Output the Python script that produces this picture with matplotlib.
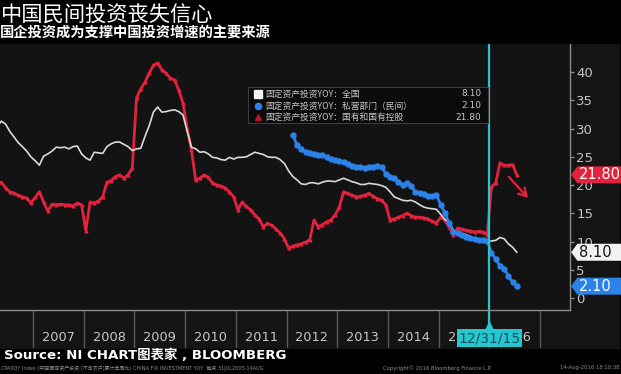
import numpy as np
import matplotlib
matplotlib.use("Agg")
import matplotlib.pyplot as plt
import matplotlib.transforms as mtransforms
from matplotlib.patches import Rectangle, Polygon

plt.rcParams['font.family'] = ['DejaVu Sans', 'Noto Sans CJK SC']

# ---------------- data (monthly) ----------------
white_start = (2006, 4)
white_vals = [
    30.3, 31.3, 30.8, 29.5, 28.5, 27.5, 26.8, 26.0, 25.0,                 # 2006 Apr-Dec
    24.3, 23.5, 25.1, 25.5, 26.0, 26.7, 26.6, 26.7, 26.4, 26.8, 26.9, 25.5,  # 2007
    24.8, 24.4, 25.8, 25.7, 25.6, 26.8, 27.3, 27.6, 27.6, 27.2, 26.8, 26.1,  # 2008
    26.4, 26.5, 28.6, 30.5, 32.9, 33.8, 32.9, 33.0, 33.2, 33.3, 33.0, 32.4,  # 2009
    29.5, 26.7, 26.4, 25.8, 25.9, 25.5, 24.9, 24.8, 24.5, 24.4, 24.9, 24.6,  # 2010
    24.9, 24.9, 25.0, 25.4, 25.8, 25.6, 25.4, 25.0, 24.9, 24.9, 24.5, 23.8,  # 2011
    22.5, 21.5, 20.9, 20.2, 20.1, 20.4, 20.4, 20.2, 20.5, 20.7, 20.7, 20.6,  # 2012
    20.9, 21.2, 20.9, 20.6, 20.4, 20.1, 20.1, 20.3, 20.2, 20.1, 19.9, 19.6,  # 2013
    18.8, 17.9, 17.6, 17.3, 17.2, 17.3, 17.0, 16.5, 16.1, 15.9, 15.8, 15.7,  # 2014
    14.8, 13.9, 13.5, 12.0, 11.4, 11.4, 11.2, 10.9, 10.3, 10.2, 10.2, 10.0,  # 2015
    10.1, 10.2, 10.7, 10.5, 9.6, 9.0, 8.1,                                   # 2016 Jan-Jul
]

red_start = (2006, 4)
red_vals = [
    20.3, 20.5, 19.5, 18.8, 18.6, 18.2, 17.9, 17.7, 16.8,                 # 2006 Apr-Dec
    17.8, 18.8, 17.0, 15.4, 16.6, 16.5, 16.6, 16.5, 16.5, 16.3, 16.8, 16.5,  # 2007
    11.9, 17.0, 16.8, 17.2, 17.9, 20.5, 20.8, 21.5, 21.8, 21.2, 21.8, 23.0,  # 2008
    35.4, 37.0, 38.2, 39.8, 41.2, 41.6, 40.4, 39.8, 38.9, 38.6, 36.8, 34.5,  # 2009
    30.0, 26.2, 20.9, 21.2, 21.8, 21.4, 20.3, 20.0, 19.8, 19.5, 18.8, 17.9,  # 2010
    15.6, 17.0, 16.2, 15.6, 14.7, 14.0, 12.6, 13.2, 12.9, 12.2, 11.5, 10.5,  # 2011
    8.8, 9.2, 9.4, 9.6, 9.9, 10.3, 13.8, 12.6, 13.0, 13.5, 13.8, 14.7,       # 2012
    16.1, 18.8, 18.5, 18.2, 17.9, 18.0, 18.2, 18.5, 18.0, 17.6, 17.3, 16.5,  # 2013
    13.8, 14.0, 14.3, 14.6, 15.0, 14.6, 14.3, 14.3, 14.2, 14.0, 13.6, 13.3,  # 2014
    14.3, 13.8, 12.5, 11.2, 12.4, 12.2, 12.0, 11.9, 11.7, 11.8, 11.7, 11.2,  # 2015
    19.7, 20.3, 23.9, 23.5, 23.5, 23.6, 21.8,                                # 2016 Jan-Jul
]

blue_start = (2012, 2)
blue_vals = [
    28.8, 27.1, 26.3, 25.8, 25.6, 25.5, 25.4, 25.3, 25.0, 24.6, 24.5,        # 2012 Feb-Dec
    24.3, 24.1, 23.8, 23.4, 23.2, 23.2, 23.1, 23.2, 23.2, 23.3, 23.2, 22.0,  # 2013
    21.5, 21.2, 20.6, 20.0, 20.3, 19.8, 18.8, 18.6, 18.4, 18.1, 18.1, 18.2,  # 2014
    16.5, 15.0, 13.3, 11.7, 11.5, 11.2, 10.8, 10.7, 10.5, 10.3, 10.2, 10.1,  # 2015
    8.0, 6.9, 5.7, 5.2, 3.9, 2.8, 2.1,                                       # 2016 Jan-Jul
]

year_labels = [2007, 2008, 2009, 2010, 2011, 2012, 2013, 2014, 2015, 2016]
y_ticks = [0, 5, 10, 15, 20, 25, 30, 35, 40]
legend_labels = ['固定资产投资YOY：全国', '固定资产投资YOY：私营部门（民间）', '固定资产投资YOY：国有和国有控股']
last_values = [8.10, 2.10, 21.80]
cursor_date = 2016.0
cursor_label = '12/31/15'
arrow_from = (2016.35, 21.8)
arrow_to = (2016.80, 17.35)

title = '中国民间投资丧失信心'
subtitle = '国企投资成为支撑中国投资增速的主要来源'
source = 'Source: NI CHART图表家 , BLOOMBERG'


def month_axis(start, n):
    y, m = start
    return y + (m - 0.5 + np.arange(n)) / 12.0


xw = month_axis(white_start, len(white_vals))
xr = month_axis(red_start, len(red_vals))
xb = month_axis(blue_start, len(blue_vals))

# ---------------- figure ----------------
W, H = 621, 374
fig = plt.figure(figsize=(W / 100, H / 100), dpi=100, facecolor='black')


def fx(px):
    return px / W


def fy(py):
    return 1 - py / H


fig.patches.append(Rectangle((0, fy(348)), fx(619), fy(44) - fy(348),
                             transform=fig.transFigure, color='#141414', zorder=-5))

C_WHITE = '#dadada'
C_RED = '#e3223d'
C_BLUE = '#2b82e8'
C_CYAN = '#27c6cf'

ax = fig.add_axes([0, fy(310), fx(570), fy(44) - fy(310)], zorder=2)
ax.set_facecolor('#131313')
x0 = 2007 - 33 / 50.7
x1 = 2007 + (570 - 33) / 50.7
ax.set_xlim(x0, x1)
ax.set_ylim(-2.12, 44.96)

ax.plot(xr, red_vals, color=C_RED, lw=2.0, marker='^', ms=2.0, zorder=3)
ax.plot(xw, white_vals, color=C_WHITE, lw=1.2, zorder=4)
ax.plot(xb, blue_vals, color=C_BLUE, lw=2.0, marker='o', ms=3.6, zorder=5)
ax.axvline(cursor_date, color=C_CYAN, lw=1.6, zorder=6)

ax.annotate('', xy=arrow_to, xytext=arrow_from,
            arrowprops=dict(arrowstyle='->,head_length=0.55,head_width=0.32',
                            color=C_RED, lw=1.6), zorder=7)

ax.yaxis.tick_right()
ax.set_yticks(y_ticks)
ax.set_xticks([])
ax.tick_params(axis='y', colors='#8c8c8c', labelcolor='#c4c4c4', labelsize=9.5,
               length=3, width=1, pad=1.5, direction='out')
for s in ['top', 'left']:
    ax.spines[s].set_visible(False)
for s in ['right', 'bottom']:
    ax.spines[s].set_color('#8a8a8a')
    ax.spines[s].set_linewidth(1.0)

# value tags on the right axis
trans = mtransforms.blended_transform_factory(ax.transAxes, ax.transData)
tag_styles = [('#f2f2f2', '#111111'), (C_BLUE, 'white'), (C_RED, 'white')]
half = 8.5 / 5.65
xe = 621 / 570
for v, (fc, tc) in zip(last_values, tag_styles):
    poly = Polygon([(1.002, v), (1.013, v + half), (xe, v + half), (xe, v - half), (1.013, v - half)],
                   closed=True, transform=trans, facecolor=fc, edgecolor='none',
                   clip_on=False, zorder=10)
    ax.add_patch(poly)
    ax.text(1.016, v, f'{v:.2f}', transform=trans, ha='left', va='center',
            color=tc, fontsize=10.5, zorder=11, clip_on=False)


# legend box (manual)
def lx(px):
    return px / 570


def ly(py):
    return (310 - py) / 266


ax.add_patch(Rectangle((lx(248), ly(123)), lx(488) - lx(248), ly(87) - ly(123),
                       transform=ax.transAxes, facecolor='#0b0b0b', edgecolor='#3c3c3c',
                       lw=0.8, zorder=8))
leg_y = [94, 106, 117]
leg_markers = [('s', '#f2f2f2', 5.5), ('o', C_BLUE, 4.5), ('^', '#b0182e', 5)]
for (mk, mc, ms), lab, val, py in zip(leg_markers, legend_labels, last_values, leg_y):
    ax.plot([lx(258)], [ly(py)], marker=mk, color=mc, ms=ms, transform=ax.transAxes,
            zorder=9, clip_on=False, linestyle='none')
    ax.text(lx(265), ly(py), lab, transform=ax.transAxes, ha='left', va='center',
            color='#c6c6c6', fontsize=6.3, family=['Noto Sans CJK SC', 'DejaVu Sans'], zorder=9)
    ax.text(lx(481), ly(py), f'{val:.2f}', transform=ax.transAxes, ha='right', va='center',
            color='#c6c6c6', fontsize=6.5, zorder=9)

# bottom band with year labels
axb = fig.add_axes([0, fy(348), fx(570), fy(310) - fy(348)], zorder=1)
axb.set_facecolor('#141414')
axb.set_xlim(x0, x1)
axb.set_ylim(0, 1)
axb.set_xticks([])
axb.set_yticks([])
for s in axb.spines.values():
    s.set_visible(False)
axb.vlines(year_labels + [year_labels[-1] + 1], 0, 1, color='#5a5a5a', lw=1.0)
for yr in year_labels:
    axb.text(yr + 0.5, 0.27, str(yr), ha='center', va='center', color='#c8c8c8', fontsize=9.3)
axb.vlines([cursor_date], 0.4, 1, color=C_CYAN, lw=1.6, zorder=6)
axb.plot([cursor_date], [0.55], marker='^', color=C_CYAN, ms=7, zorder=6)
axb.text(cursor_date, 0.26, cursor_label, ha='center', va='center', color='#10505e',
         fontsize=10, zorder=7,
         bbox=dict(boxstyle='square,pad=0.12', fc=C_CYAN, ec='none'))

# titles and footer
fig.text(fx(1), fy(16), title, ha='left', va='center', color='white', fontsize=15.3,
         family=['Noto Sans CJK SC'])
fig.text(fx(0), fy(33), subtitle, ha='left', va='center', color='white', fontsize=10.3,
         fontweight='bold', family=['Noto Sans CJK SC'])
fig.text(fx(4), fy(355), source, ha='left', va='center', color='white', fontsize=9.6,
         fontweight='bold', family=['DejaVu Sans', 'Noto Sans CJK SC'])
fig.text(fx(1), fy(368), 'CPAIIQY Index (中国固定资产投资 (不含农户)累计年同比) CHINA FIX INVESTMENT YOY  每月 31JUL2005-14AUG',
         ha='left', va='center', color='#8f8f8f', fontsize=3.6,
         family=['DejaVu Sans', 'Noto Sans CJK SC'])
fig.text(fx(383), fy(368), 'Copyright© 2016 Bloomberg Finance L.P.', ha='left', va='center',
         color='#8f8f8f', fontsize=3.8)
fig.text(fx(619), fy(368), '14-Aug-2016 18:10:38', ha='right', va='center',
         color='#8f8f8f', fontsize=3.8)

fig.savefig('out.png', dpi=100, facecolor='black')
